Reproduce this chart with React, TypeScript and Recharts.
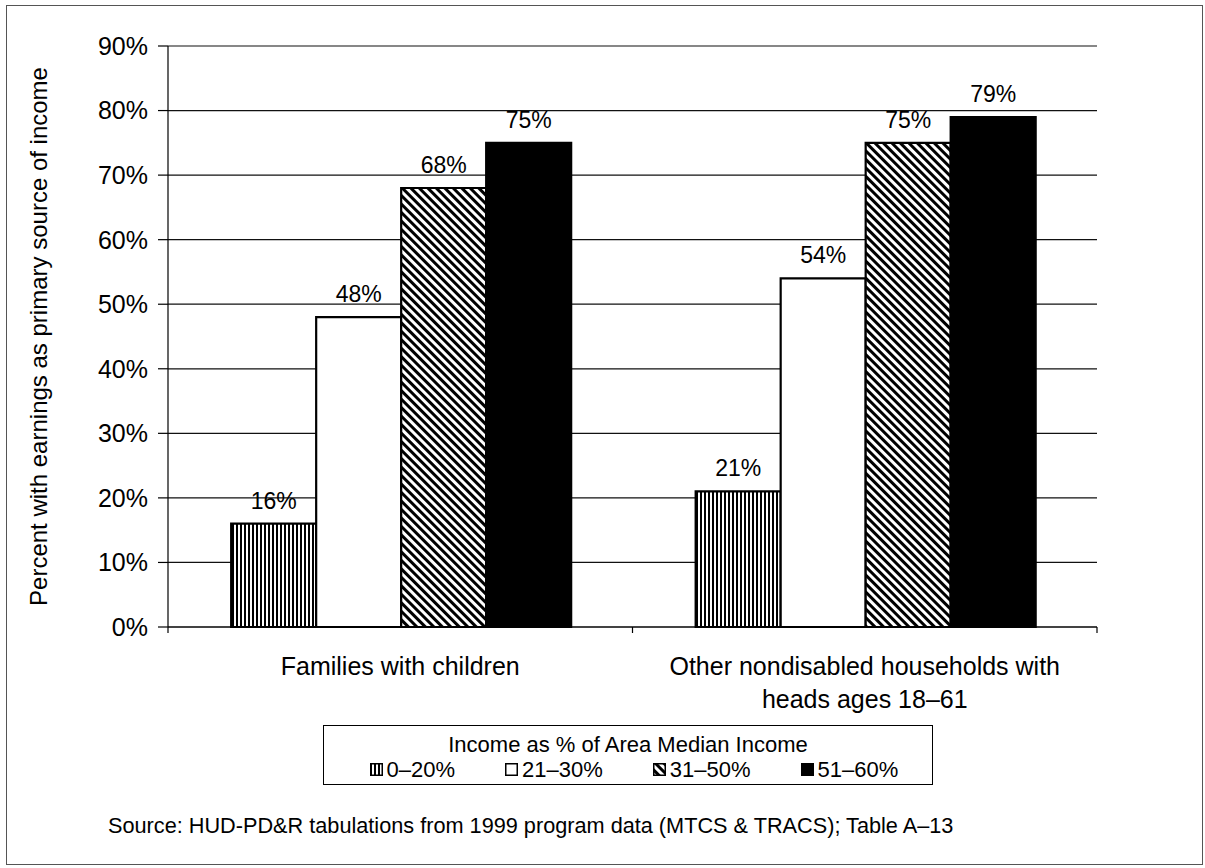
import React from "react";
import {
  BarChart,
  Bar,
  XAxis,
  YAxis,
  CartesianGrid,
  Legend,
  LabelList,
} from "recharts";

const categories = [
  "Families with children",
  "Other nondisabled households with heads ages 18–61",
];
const categoryLines = [
  ["Families with children"],
  ["Other nondisabled households with", "heads ages 18–61"],
];
const incomeBands = ["0–20%", "21–30%", "31–50%", "51–60%"];
const band0to20 = [16, 21];
const band21to30 = [48, 54];
const band31to50 = [68, 75];
const band51to60 = [75, 79];
const yTicks = [0, 10, 20, 30, 40, 50, 60, 70, 80, 90];

const data = categories.map((name, i) => ({
  name,
  b1: band0to20[i],
  b2: band21to30[i],
  b3: band31to50[i],
  b4: band51to60[i],
}));

const W = 1205;
const H = 868;
const FONT = '"Liberation Sans", Arial, Helvetica, sans-serif';
const PLOT_W = 1097 - 168;

const fills = ["url(#vstripes)", "#ffffff", "url(#dstripes)", "#000000"];
const keys = ["b1", "b2", "b3", "b4"];

const CategoryTick = (props: any) => {
  const { x, y, payload, index } = props;
  const half = payload && payload.offset ? payload.offset : PLOT_W / categories.length / 2;
  const i = categories.indexOf(payload.value);
  const lines = categoryLines[i >= 0 ? i : index] || [String(payload.value)];
  return (
    <g>
      {index === 0 && (
        <line x1={x - half} y1={y} x2={x - half} y2={y + 6} stroke="#000" strokeWidth={1.2} />
      )}
      <line x1={x + half} y1={y} x2={x + half} y2={y + 6} stroke="#000" strokeWidth={1.2} />
      <text x={x} y={y + 48} textAnchor="middle" fontSize={25} fill="#000" fontFamily={FONT}>
        {lines.map((l, k) => (
          <tspan key={k} x={x} dy={k === 0 ? 0 : 33}>
            {l}
          </tspan>
        ))}
      </text>
    </g>
  );
};

const LegendIcon = ({ fill }: { fill: string }) => (
  <svg width={13} height={13} style={{ display: "block" }}>
    <rect x={0.75} y={0.75} width={11.5} height={11.5} fill={fill} stroke="#000" strokeWidth={1.5} />
  </svg>
);

const LegendBox = () => (
  <div
    style={{
      boxSizing: "border-box",
      width: 610,
      height: 60,
      border: "1.5px solid #000",
      background: "#fff",
      fontFamily: FONT,
      color: "#000",
      fontSize: 22,
      paddingTop: 5.5,
    }}
  >
    <div style={{ textAlign: "center", lineHeight: "25px", height: 25 }}>
      Income as % of Area Median Income
    </div>
    <div
      style={{
        display: "flex",
        alignItems: "center",
        paddingLeft: 45.5,
        gap: 50,
        lineHeight: "25px",
        height: 25,
      }}
    >
      {incomeBands.map((b, i) => (
        <div key={b} style={{ display: "flex", alignItems: "center", gap: 4 }}>
          <LegendIcon fill={fills[i]} />
          <span>{b}</span>
        </div>
      ))}
    </div>
  </div>
);

export default function App() {
  return (
    <div
      style={{
        position: "absolute",
        left: 0,
        top: 0,
        width: W,
        height: H,
        background: "#fff",
        fontFamily: FONT,
      }}
    >
      <BarChart
        width={W}
        height={H}
        data={data}
        margin={{ top: 46, right: W - 1097, left: 0, bottom: 151 }}
        barCategoryGap="13.6%"
        barGap={0}
      >
        <defs>
          <pattern id="vstripes" width="4" height="4" patternUnits="userSpaceOnUse">
            <rect width="4" height="4" fill="#fff" />
            <rect width="2" height="4" fill="#000" />
          </pattern>
          <pattern
            id="dstripes"
            width="6"
            height="6"
            patternUnits="userSpaceOnUse"
            patternTransform="rotate(-45)"
          >
            <rect width="6" height="6" fill="#fff" />
            <rect width="3" height="6" fill="#000" />
          </pattern>
        </defs>
        <CartesianGrid vertical={false} stroke="#111" strokeWidth={1.2} />
        <XAxis
          dataKey="name"
          interval={0}
          height={90}
          tickLine={false}
          tickSize={0}
          tickMargin={0}
          axisLine={{ stroke: "#000", strokeWidth: 1.2 }}
          tick={<CategoryTick />}
        />
        <YAxis
          type="number"
          domain={[0, 90]}
          ticks={yTicks}
          interval={0}
          width={168}
          tickSize={10}
          tickMargin={10}
          tickFormatter={(v: number) => `${v}%`}
          tick={{ fontSize: 25, fill: "#000", fontFamily: FONT }}
          axisLine={{ stroke: "#000", strokeWidth: 1.2 }}
          tickLine={{ stroke: "#000", strokeWidth: 1.2 }}
          label={{
            value: "Percent with earnings as primary source of income",
            angle: -90,
            position: "insideLeft",
            offset: 38,
            fontSize: 24,
            fill: "#000",
            fontFamily: FONT,
            style: { textAnchor: "middle" },
          }}
        />
        <Legend
          verticalAlign="middle"
          align="center"
          layout="horizontal"
          wrapperStyle={{ left: 323, top: 725, width: 610, height: 60 }}
          content={() => <LegendBox />}
        />
        {keys.map((k, i) => (
          <Bar
            key={k}
            dataKey={k}
            name={incomeBands[i]}
            fill={fills[i]}
            stroke="#000"
            strokeWidth={2.2}
            isAnimationActive={false}
          >
            <LabelList
              dataKey={k}
              position="top"
              offset={15}
              fontSize={23}
              fill="#000"
              fontFamily={FONT}
              formatter={(v: any) => `${v}%`}
            />
          </Bar>
        ))}
      </BarChart>
      <div
        style={{
          position: "absolute",
          left: 108,
          top: 814.6,
          fontSize: 21.7,
          lineHeight: "21.7px",
          color: "#000",
          whiteSpace: "nowrap",
        }}
      >
        Source: HUD-PD&amp;R tabulations from 1999 program data (MTCS &amp; TRACS); Table A–13
      </div>
      <div
        style={{
          position: "absolute",
          left: 6,
          top: 5,
          width: 1197,
          height: 860,
          boxSizing: "border-box",
          border: "1.5px solid #555",
          pointerEvents: "none",
        }}
      />
    </div>
  );
}
